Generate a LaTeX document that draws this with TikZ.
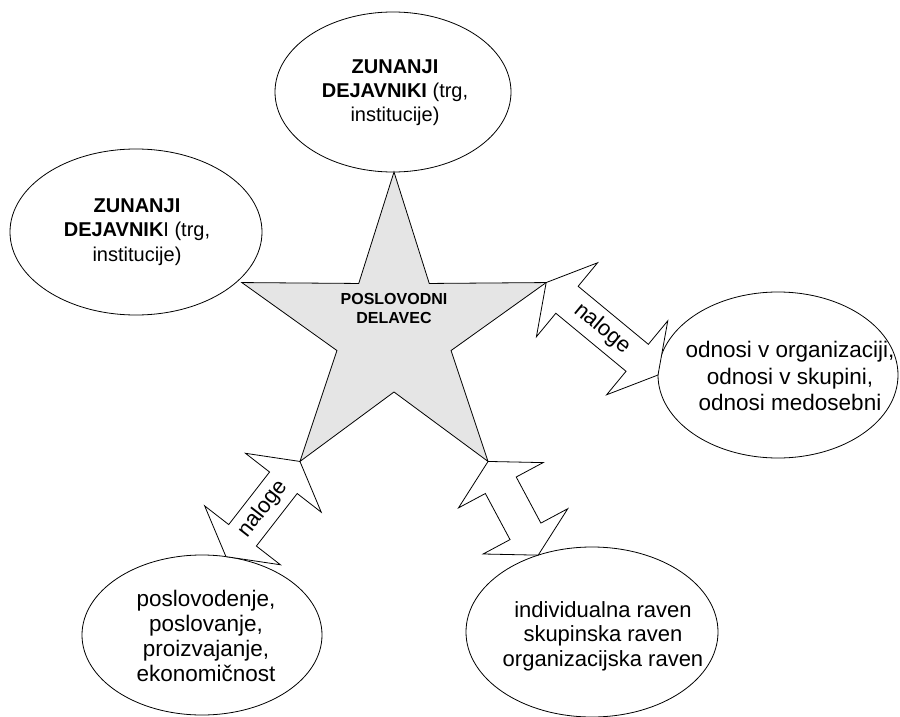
\documentclass[tikz,border=0pt]{standalone}
\usepackage{fontspec}
\setmainfont{Liberation Sans}
\usetikzlibrary{shapes.geometric,calc}

\tikzset{
  bubble/.style={draw, ellipse, line width=0.8pt, inner sep=0pt, outer sep=0pt},
  bubbletext/.style={align=center, inner sep=0pt},
  starshape/.style={draw, star, star points=5, star point ratio=2.667,
    minimum size=320pt, inner sep=0pt, outer sep=0pt, line width=0.8pt, fill=gray!20},
  coretext/.style={align=center, inner sep=0pt, font=\fontsize{16}{19}\selectfont\bfseries},
  blockarrow/.style={draw, fill=white, line width=0.8pt, line join=miter},
  arrowlabel/.style={sloped, inner sep=0pt, font=\fontsize{22}{26}\selectfont}
}

% double-headed block arrow between two named points
\newcommand\duoarrow[2]{%
  \draw[blockarrow] (#1)
    -- ($(#1)!27pt!(#2)!48pt!90:(#2)$)
    -- ($(#1)!27pt!(#2)!17.5pt!90:(#2)$)
    -- ($(#2)!27pt!(#1)!17.5pt!-90:(#1)$)
    -- ($(#2)!27pt!(#1)!48pt!-90:(#1)$)
    -- (#2)
    -- ($(#2)!27pt!(#1)!48pt!90:(#1)$)
    -- ($(#2)!27pt!(#1)!17.5pt!90:(#1)$)
    -- ($(#1)!27pt!(#2)!17.5pt!-90:(#2)$)
    -- ($(#1)!27pt!(#2)!48pt!-90:(#2)$)
    -- cycle;}

\begin{document}
\begin{tikzpicture}[x=1pt,y=-1pt]
  \useasboundingbox (0,0) rectangle (900,717);

  % central star
  \node[starshape] (star) at (394,332) {};
  \node[coretext] (core) at (394,308) {POSLOVODNI\\DELAVEC};

  % surrounding ellipses
  \node[bubble, minimum width=236pt, minimum height=160pt] (top) at (393,92) {};
  \node[bubble, minimum width=252pt, minimum height=166pt] (left) at (136,232) {};
  \node[bubble, minimum width=240pt, minimum height=166pt] (er) at (778,375) {};
  \node[bubble, minimum width=240pt, minimum height=160pt] (bl) at (202,635) {};
  \node[bubble, minimum width=252pt, minimum height=170pt] (br) at (592,632) {};

  % block arrows
  \coordinate (a1) at (star.18);
  \coordinate (b1) at (er.west);
  \coordinate (a2) at (star.234);
  \coordinate (b2) at (bl.73);
  \coordinate (a3) at (star.306);
  \coordinate (b3) at (br.125);
  \duoarrow{a1}{b1}
  \duoarrow{a2}{b2}
  \duoarrow{a3}{b3}
  \path (a1) -- node[arrowlabel] (lab1) {naloge} (b1);
  \path (a2) -- node[arrowlabel] (lab2) {naloge} (b2);

  % ellipse texts
  \node[bubbletext, font=\fontsize{20}{24}\selectfont] (toptext) at (395,93)
    {\textbf{ZUNANJI}\\\textbf{DEJAVNIKI} (trg,\\institucije)};
  \node[bubbletext, font=\fontsize{20}{24.5}\selectfont] (lefttext) at (137,232)
    {\textbf{ZUNANJI}\\\textbf{DEJAVNIK}I (trg,\\institucije)};
  \node[bubbletext, font=\fontsize{22.5}{26.5}\selectfont] (ertext) at (790,376)
    {odnosi v organizaciji,\\odnosi v skupini,\\odnosi medosebni};
  \node[bubbletext, font=\fontsize{22.5}{25}\selectfont] (bltext) at (206,636)
    {poslovodenje,\\poslovanje,\\proizvajanje,\\ekonomičnost};
  \node[bubbletext, font=\fontsize{22}{24.5}\selectfont] (brtext) at (603,636)
    {individualna raven\\skupinska raven\\organizacijska raven};
\end{tikzpicture}
\end{document}
